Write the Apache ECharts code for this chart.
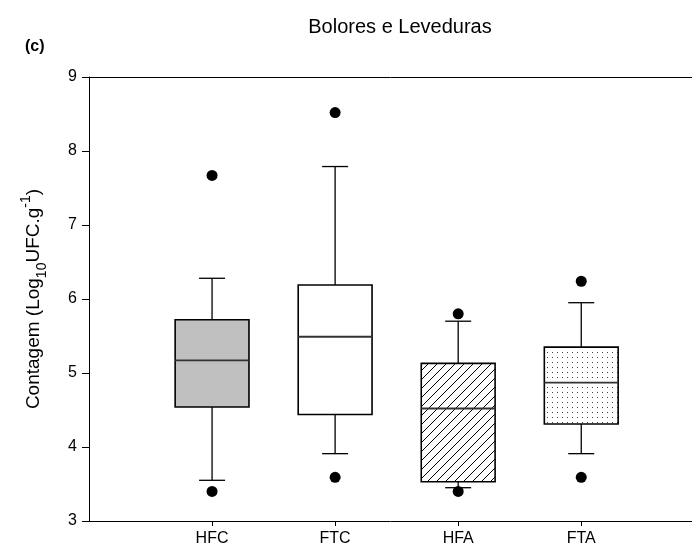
<!DOCTYPE html>
<html>
<head>
<meta charset="utf-8">
<title>Bolores e Leveduras</title>
<script src="https://cdn.jsdelivr.net/npm/echarts@6/dist/echarts.min.js"></script>
<style>
  html, body { margin: 0; padding: 0; background: #fff; }
  #chart { width: 692px; height: 551px; }
</style>
</head>
<body>
<div id="chart"></div>
<script>
// Treatments along the x axis (placed at positions 1..4)
const categories = ['HFC', 'FTC', 'HFA', 'FTA'];
const positions = [1, 2, 3, 4];

// Box-plot statistics, Log10 UFC.g-1
const whiskerLow  = [3.55, 3.91, 3.45, 3.91];
const q1          = [4.54, 4.44, 3.53, 4.31];
const median      = [5.17, 5.49, 4.52, 4.87];
const q3          = [5.72, 6.19, 5.13, 5.35];
const whiskerHigh = [6.28, 7.79, 5.70, 5.95];

// Points outside the whiskers
const outlierLow  = [3.40, 3.59, 3.40, 3.59];
const outlierHigh = [7.67, 8.52, 5.80, 6.24];

// Y axis ticks
const yTicks = [3, 4, 5, 6, 7, 8, 9];

const FONT = "'Liberation Sans', Arial, sans-serif";

// Fill patterns: plain grey, plain white, diagonal hatch, fine dots
function hatchCanvas() {
  const s = 9;
  const c = document.createElement('canvas');
  c.width = s; c.height = s;
  const g = c.getContext('2d');
  g.fillStyle = '#fff';
  g.fillRect(0, 0, s, s);
  g.strokeStyle = '#000';
  g.lineWidth = 1;
  g.beginPath();
  g.moveTo(-1, s + 1); g.lineTo(s + 1, -1);
  g.moveTo(-1, 1); g.lineTo(1, -1);
  g.moveTo(s - 1, s + 1); g.lineTo(s + 1, s - 1);
  g.stroke();
  return c;
}
function dotCanvas() {
  const s = 5;
  const c = document.createElement('canvas');
  c.width = s; c.height = s;
  const g = c.getContext('2d');
  g.fillStyle = '#fff';
  g.fillRect(0, 0, s, s);
  g.fillStyle = '#444';
  g.fillRect(2, 2, 1, 1);
  return c;
}
const fills = [
  '#c0c0c0',
  '#ffffff',
  { image: hatchCanvas(), repeat: 'repeat' },
  { image: dotCanvas(), repeat: 'repeat' }
];

const boxData = positions.map((p, i) => [p, whiskerLow[i], q1[i], median[i], q3[i], whiskerHigh[i], i]);
const outlierData = [];
positions.forEach((p, i) => {
  outlierData.push([p, outlierLow[i]]);
  outlierData.push([p, outlierHigh[i]]);
});

const BOX_W = 0.6;   // box width in x units
const CAP_HALF = 13; // half width of whisker caps, px

function renderBox(params, api) {
  const x = api.value(0);
  const pLow = api.coord([x, api.value(1)]);
  const pQ1 = api.coord([x, api.value(2)]);
  const pMed = api.coord([x, api.value(3)]);
  const pQ3 = api.coord([x, api.value(4)]);
  const pHigh = api.coord([x, api.value(5)]);
  const half = api.size([BOX_W, 0])[0] / 2;
  const cx = pMed[0];
  const idx = api.value(6);
  const line = { stroke: '#000', lineWidth: 1.3 };
  return {
    type: 'group',
    children: [
      { type: 'line', shape: { x1: cx, y1: pLow[1], x2: cx, y2: pQ1[1] }, style: line },
      { type: 'line', shape: { x1: cx, y1: pQ3[1], x2: cx, y2: pHigh[1] }, style: line },
      { type: 'line', shape: { x1: cx - CAP_HALF, y1: pLow[1], x2: cx + CAP_HALF, y2: pLow[1] }, style: line },
      { type: 'line', shape: { x1: cx - CAP_HALF, y1: pHigh[1], x2: cx + CAP_HALF, y2: pHigh[1] }, style: line },
      {
        type: 'rect',
        shape: { x: cx - half, y: pQ3[1], width: half * 2, height: pQ1[1] - pQ3[1] },
        style: { fill: fills[idx], stroke: '#000', lineWidth: 1.6 }
      },
      { type: 'line', shape: { x1: cx - half, y1: pMed[1], x2: cx + half, y2: pMed[1] }, style: { stroke: '#333', lineWidth: 1.8 } }
    ]
  };
}

const chart = echarts.init(document.getElementById('chart'), null, { renderer: 'canvas' });
chart.setOption({
  animation: false,
  backgroundColor: '#fff',
  textStyle: { fontFamily: FONT },
  graphic: [
    {
      type: 'text', x: 400, y: 27,
      style: { text: 'Bolores e Leveduras', font: '20px ' + FONT, fill: '#000', textAlign: 'center', textVerticalAlign: 'middle' }
    },
    {
      type: 'text', x: 25, y: 47,
      style: { text: '(c)', font: 'bold 16px ' + FONT, fill: '#000', textAlign: 'left', textVerticalAlign: 'middle' }
    }
  ],
  grid: { left: 89, right: 0, top: 77, bottom: 30, containLabel: false },
  xAxis: [
    {
      type: 'value', min: 0, max: 4.9, interval: 1, position: 'bottom',
      axisLine: { show: true, lineStyle: { color: '#000', width: 1 } },
      axisTick: { show: true, customValues: positions, length: 5, inside: false, lineStyle: { color: '#000' } },
      axisLabel: {
        customValues: positions, margin: 10, color: '#000', fontSize: 16, fontFamily: FONT,
        formatter: v => categories[Math.round(v) - 1] || ''
      },
      splitLine: { show: false }
    },
    {
      type: 'value', min: 0, max: 4.9, position: 'top',
      axisLine: { show: true, onZero: false, lineStyle: { color: '#000', width: 1 } },
      axisTick: { show: false }, axisLabel: { show: false }, splitLine: { show: false }
    }
  ],
  yAxis: {
    type: 'value', min: yTicks[0], max: yTicks[yTicks.length - 1], interval: 1,
    axisLine: { show: true, lineStyle: { color: '#000', width: 1 } },
    axisTick: { show: true, length: 7, inside: false, lineStyle: { color: '#000' } },
    axisLabel: { margin: 12, color: '#000', fontSize: 16, fontFamily: FONT },
    splitLine: { show: false },
    name: 'Contagem (Log{sub|10}UFC.g{sup|-1})',
    nameLocation: 'middle',
    nameGap: 40,
    nameTextStyle: {
      color: '#000', fontSize: 19, fontFamily: FONT, lineHeight: 30,
      rich: {
        sub: { fontSize: 14, fontFamily: FONT, color: '#000', verticalAlign: 'bottom', lineHeight: 30 },
        sup: { fontSize: 14, fontFamily: FONT, color: '#000', verticalAlign: 'top', lineHeight: 30 }
      }
    }
  },
  series: [
    {
      type: 'custom',
      xAxisIndex: 0,
      renderItem: renderBox,
      data: boxData,
      encode: { x: 0, y: [1, 2, 3, 4, 5] },
      z: 2
    },
    {
      type: 'scatter',
      xAxisIndex: 0,
      data: outlierData,
      symbol: 'circle',
      symbolSize: 11,
      itemStyle: { color: '#000', opacity: 1 },
      z: 3
    }
  ]
});
</script>
</body>
</html>
